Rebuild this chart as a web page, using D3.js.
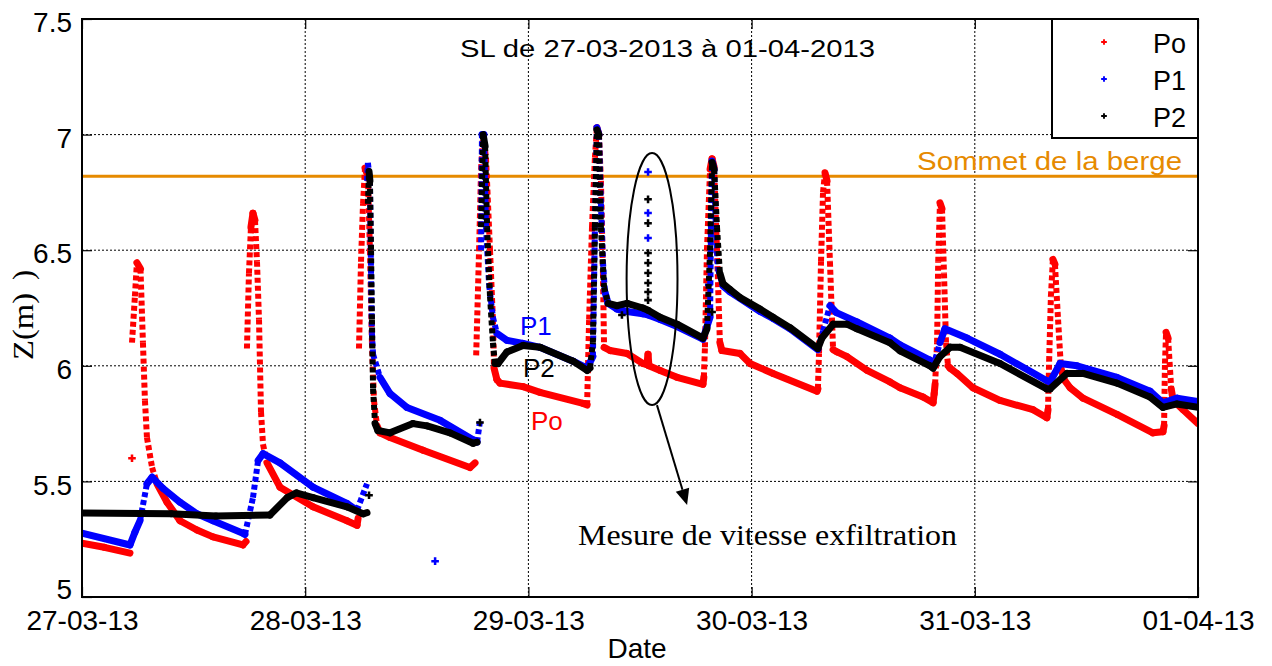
<!DOCTYPE html>
<html><head><meta charset="utf-8">
<script src="https://cdn.jsdelivr.net/npm/d3@7"></script>
<style>
body{margin:0;background:#fff;}
svg text{font-family:"Liberation Sans",Arial,Helvetica,sans-serif;}
svg text.serif{font-family:"Liberation Serif","Times New Roman",serif;}
</style></head><body>
<svg id="chart" width="1272" height="666"></svg>
<script>
// ---------------- DATA ----------------
// x = days since 27-03-2013 00:00 ; value = Z (m) ; null = gap in the record
const xTickValues = [0, 1, 2, 3, 4, 5];
const xTickLabels = ["27-03-13", "28-03-13", "29-03-13", "30-03-13", "31-03-13", "01-04-13"];
const yTicks = [5, 5.5, 6, 6.5, 7, 7.5];
const bergeLevel = 6.82;
const seriesNames = ["Po", "P1", "P2"];
const seriesColors = ["#ff0000", "#0000ff", "#000000"];

const poLine = [
 [0,5.233],[0.10,5.215],[0.215,5.19],null,
 [0.224,6.10],[0.237,6.30],[0.246,6.446],[0.262,6.42],[0.273,6.10],[0.282,5.85],[0.291,5.69],[0.314,5.56],[0.336,5.49],[0.381,5.41],[0.439,5.33],[0.515,5.29],[0.587,5.26],[0.721,5.225],[0.735,5.24],null,
 [0.739,6.075],[0.748,6.40],[0.757,6.60],[0.766,6.66],[0.775,6.63],[0.784,6.45],[0.793,6.20],[0.802,5.80],[0.811,5.66],[0.829,5.58],[0.887,5.475],[1.035,5.39],[1.187,5.33],[1.232,5.31],[1.237,5.34],null,
 [1.241,6.075],[1.250,6.45],[1.259,6.70],[1.268,6.855],[1.281,6.82],[1.290,6.50],[1.299,6.10],[1.308,5.85],[1.322,5.74],[1.335,5.71],[1.380,5.69],[1.528,5.635],[1.738,5.56],[1.761,5.58],null,
 [1.766,6.045],[1.779,6.50],[1.788,6.85],[1.797,7.0],[1.810,6.90],[1.828,6.50],[1.841,6.20],[1.846,5.99],[1.859,5.94],[1.873,5.925],[1.976,5.91],[2.052,5.885],[2.245,5.837],[2.263,5.83],
 [2.272,6.20],[2.285,6.60],[2.298,6.90],[2.307,7.03],[2.316,7.0],[2.325,6.80],[2.334,6.40],[2.339,6.08],[2.366,6.066],[2.442,6.053],[2.513,6.01],[2.531,6.005],[2.536,6.05],[2.540,6.0],[2.590,5.98],[2.666,5.95],[2.782,5.92],[2.786,5.95],
 [2.791,6.08],[2.800,6.50],[2.814,6.85],[2.823,6.895],[2.832,6.86],[2.845,6.50],[2.858,6.10],[2.867,6.066],[2.948,6.053],[2.993,6.01],[3.096,5.967],[3.293,5.89],[3.297,5.90],
 [3.302,6.053],[3.311,6.45],[3.320,6.75],[3.329,6.835],[3.338,6.80],[3.351,6.45],[3.365,6.07],[3.383,6.06],[3.427,6.04],[3.517,5.98],[3.620,5.93],[3.665,5.905],[3.768,5.865],[3.813,5.84],[3.818,5.88],
 [3.822,5.92],[3.831,6.10],[3.836,6.45],[3.844,6.705],[3.853,6.68],[3.862,6.40],[3.871,6.10],[3.880,6.0],[3.889,5.99],[3.920,5.967],[3.992,5.905],[4.113,5.85],[4.261,5.81],[4.323,5.775],[4.328,5.81],
 [4.333,6.02],[4.341,6.30],[4.350,6.46],[4.359,6.44],[4.373,6.20],[4.386,5.99],[4.400,5.94],[4.427,5.905],[4.485,5.86],[4.637,5.79],[4.798,5.71],[4.843,5.715],[4.848,5.74],
 [4.852,6.01],[4.857,6.145],[4.866,6.12],[4.880,5.90],[4.889,5.85],[4.933,5.81],[5.0,5.75]
];
const poDots = [[0.224,5.60]];

const p1Line = [
 [0,5.276],[0.215,5.225],[0.237,5.28],[0.260,5.33],[0.291,5.49],[0.314,5.518],[0.363,5.47],[0.439,5.41],[0.515,5.36],[0.587,5.33],[0.721,5.276],[0.730,5.27],[0.766,5.43],[0.789,5.59],[0.811,5.62],[0.887,5.58],[1.035,5.475],[1.187,5.405],[1.232,5.375],[1.277,5.49],null,
 [1.277,6.80],[1.281,6.878],[1.290,6.80],[1.295,6.40],[1.299,6.14],[1.304,6.05],[1.335,5.95],[1.380,5.88],[1.456,5.82],[1.604,5.764],[1.752,5.68],[1.770,5.67],[1.783,5.76],null,
 [1.788,6.50],[1.792,7.0],[1.801,7.0],[1.810,6.60],[1.824,6.35],[1.841,6.21],[1.859,6.14],[1.904,6.11],[1.976,6.097],[2.052,6.08],[2.200,6.02],[2.263,5.99],[2.289,6.04],
 [2.298,6.60],[2.307,7.03],[2.316,7.0],[2.325,6.70],[2.334,6.45],[2.343,6.32],[2.357,6.27],[2.397,6.245],[2.442,6.235],[2.513,6.225],[2.536,6.22],[2.590,6.20],[2.666,6.17],[2.782,6.115],[2.800,6.17],[2.814,6.21],
 [2.818,6.60],[2.823,6.886],[2.832,6.85],[2.840,6.60],[2.849,6.42],[2.872,6.345],[2.903,6.32],[3.038,6.235],[3.096,6.205],[3.172,6.16],[3.297,6.07],
 [3.320,6.15],[3.351,6.26],[3.380,6.23],[3.472,6.19],[3.620,6.12],[3.665,6.09],[3.799,6.025],[3.813,5.995],[3.844,6.10],[3.866,6.16],[3.965,6.12],[4.113,6.05],[4.323,5.935],[4.337,5.93],[4.382,6.01],[4.458,6.0],[4.637,5.95],[4.785,5.89],[4.843,5.84],[4.906,5.86],[5.0,5.845]
];
const p1Dots = [[1.582,5.155],[2.536,6.838],[2.536,6.661],[2.536,6.553],[2.808,6.35]];

const p2Line = [
 [0,5.363],[0.40,5.36],[0.60,5.35],[0.842,5.355],[0.92,5.43],[0.96,5.45],[1.035,5.43],[1.187,5.39],[1.259,5.36],[1.277,5.365],null,
 [1.281,6.70],[1.286,6.84],[1.290,6.80],[1.295,6.50],[1.299,6.20],[1.304,5.90],[1.313,5.75],[1.326,5.72],[1.380,5.71],[1.483,5.75],[1.546,5.74],[1.649,5.71],[1.752,5.665],[1.770,5.67],null,
 [1.788,6.60],[1.797,7.0],[1.806,6.95],[1.815,6.60],[1.828,6.30],[1.841,6.10],[1.850,6.01],[1.864,6.01],[1.904,6.06],[1.976,6.088],[2.052,6.08],[2.200,6.02],[2.263,5.98],[2.276,5.99],
 [2.289,6.10],[2.298,6.60],[2.307,7.02],[2.316,7.0],[2.325,6.60],[2.339,6.34],[2.357,6.27],[2.397,6.26],[2.442,6.27],[2.513,6.25],[2.536,6.24],[2.590,6.21],[2.666,6.18],[2.782,6.12],[2.800,6.16],
 [2.814,6.50],[2.823,6.88],[2.832,6.85],[2.845,6.60],[2.858,6.40],[2.872,6.355],[2.903,6.33],[2.948,6.295],[3.038,6.245],[3.096,6.21],[3.172,6.165],[3.297,6.075],
 [3.315,6.12],[3.365,6.18],[3.427,6.18],[3.472,6.16],[3.620,6.10],[3.665,6.065],[3.799,6.00],[3.813,5.99],[3.844,6.04],[3.889,6.08],[3.934,6.08],[4.113,6.01],[4.323,5.90],[4.337,5.90],[4.413,5.967],[4.485,5.967],[4.637,5.925],[4.785,5.865],[4.843,5.82],[4.906,5.835],[5.0,5.82]
];
const p2Dots = [[1.286,5.44],[1.783,5.755],[2.419,6.22],[2.823,6.233],
 [2.536,6.72],[2.536,6.617],[2.536,6.488],[2.536,6.445],[2.536,6.401],[2.536,6.358],[2.536,6.319],[2.536,6.284]];

// annotation anchors (data coordinates)
const ellipseCenter = [2.554, 6.375], ellipseHalf = [0.114, 0.545];
const arrowFrom = [2.576, 5.83], arrowTo = [2.711, 5.398];

// ---------------- DRAW ----------------
const L = 82, R = 1198, T = 19, B = 597;
const x = d3.scaleLinear().domain([0, 5]).range([L, R]);
const y = d3.scaleLinear().domain([5, 7.5]).range([B, T]);
const svg = d3.select("#chart");

svg.append("defs").append("clipPath").attr("id", "clip")
  .append("rect").attr("x", L).attr("y", T).attr("width", R - L).attr("height", B - T);

// grid
const grid = svg.append("g").attr("stroke", "#000").attr("stroke-width", 1).attr("stroke-dasharray", "2,2");
grid.selectAll(".gv").data(xTickValues.slice(1, -1)).join("line").attr("class", "gv")
  .attr("x1", d => x(d)).attr("x2", d => x(d)).attr("y1", T).attr("y2", B);
grid.selectAll(".gh").data(yTicks.slice(1, -1)).join("line").attr("class", "gh")
  .attr("x1", L).attr("x2", R).attr("y1", d => y(d)).attr("y2", d => y(d));

// axes (ticks inside)
const fmtX = d => xTickLabels[xTickValues.indexOf(d)];
const gx = svg.append("g").attr("transform", `translate(0,${B})`)
  .call(d3.axisBottom(x).tickValues(xTickValues).tickFormat(fmtX).tickSize(-10).tickPadding(13));
const gy = svg.append("g").attr("transform", `translate(${L},0)`)
  .call(d3.axisLeft(y).tickValues(yTicks).tickFormat(d3.format("")).tickSize(-10).tickPadding(10));
svg.append("g").attr("transform", `translate(0,${T})`)
  .call(d3.axisTop(x).tickValues(xTickValues).tickFormat("").tickSize(-10));
svg.append("g").attr("transform", `translate(${R},0)`)
  .call(d3.axisRight(y).tickValues(yTicks).tickFormat("").tickSize(-10));
svg.selectAll(".domain").remove();
svg.selectAll(".tick line").attr("stroke", "#000").attr("stroke-width", 1.2);
gx.selectAll("text").attr("font-size", 28).attr("fill", "#000");
gy.selectAll("text").attr("font-size", 28).attr("fill", "#000")
  .attr("dy", (d, i) => i === 0 ? "0.04em" : "0.45em");

// berge level
svg.append("line").attr("x1", L).attr("x2", R).attr("y1", y(bergeLevel)).attr("y2", y(bergeLevel))
  .attr("stroke", "#e68a00").attr("stroke-width", 3);

// series
const plot = svg.append("g").attr("clip-path", "url(#clip)");
const cross = d3.symbol().type(d3.symbolCross).size(32);
function drawSeries(line, dots, color) {
  const g = plot.append("g");
  for (let i = 0; i < line.length - 1; i++) {
    const a = line[i], b = line[i + 1];
    if (!a || !b) continue;
    const x1 = x(a[0]), y1 = y(a[1]), x2 = x(b[0]), y2 = y(b[1]);
    const steep = Math.abs(y2 - y1) > 2.2 * Math.abs(x2 - x1) && Math.abs(y2 - y1) > 14;
    g.append("line").attr("x1", x1).attr("y1", y1).attr("x2", x2).attr("y2", y2)
      .attr("stroke", color)
      .attr("stroke-width", steep ? 6 : 7)
      .attr("stroke-linecap", steep ? "butt" : "round")
      .attr("stroke-dasharray", steep ? "5,3" : null);
  }
  g.selectAll("path.dot").data(dots).join("path").attr("class", "dot")
    .attr("d", cross).attr("fill", color)
    .attr("transform", d => `translate(${x(d[0])},${y(d[1])})`);
}
drawSeries(poLine, poDots, seriesColors[0]);
drawSeries(p1Line, p1Dots, seriesColors[1]);
drawSeries(p2Line, p2Dots, seriesColors[2]);

// frame
svg.append("rect").attr("x", L).attr("y", T).attr("width", R - L).attr("height", B - T)
  .attr("fill", "none").attr("stroke", "#000").attr("stroke-width", 2);

// title
svg.append("text").attr("x", 460).attr("y", 57).attr("font-size", 23)
  .attr("textLength", 415).attr("lengthAdjust", "spacingAndGlyphs").text("SL de 27-03-2013 à 01-04-2013");

// berge label
svg.append("text").attr("x", 917).attr("y", 170).attr("font-size", 25).attr("fill", "#e68a00")
  .attr("textLength", 265).attr("lengthAdjust", "spacingAndGlyphs").text("Sommet de la berge");

// in-plot series labels
const inLabels = [{t: "P1", c: seriesColors[1], x: 520, y: 335}, {t: "P2", c: seriesColors[2], x: 523, y: 377}, {t: "Po", c: seriesColors[0], x: 531, y: 430}];
svg.selectAll(".inlab").data(inLabels).join("text").attr("class", "inlab")
  .attr("x", d => d.x).attr("y", d => d.y).attr("font-size", 26).attr("fill", d => d.c).text(d => d.t);

// ellipse + arrow
const ecx = x(ellipseCenter[0]), ecy = y(ellipseCenter[1]);
svg.append("ellipse").attr("cx", ecx).attr("cy", ecy)
  .attr("rx", x(ellipseCenter[0] + ellipseHalf[0]) - ecx)
  .attr("ry", ecy - y(ellipseCenter[1] + ellipseHalf[1]))
  .attr("fill", "none").attr("stroke", "#000").attr("stroke-width", 2);
const ax1 = x(arrowFrom[0]), ay1 = y(arrowFrom[1]), ax2 = x(arrowTo[0]), ay2 = y(arrowTo[1]);
const ang = Math.atan2(ay2 - ay1, ax2 - ax1), hl = 16, hw = 7;
const bx = ax2 - hl * Math.cos(ang), by = ay2 - hl * Math.sin(ang);
svg.append("line").attr("x1", ax1).attr("y1", ay1).attr("x2", bx).attr("y2", by)
  .attr("stroke", "#000").attr("stroke-width", 2);
svg.append("path").attr("d", `M${ax2},${ay2}L${bx + hw * Math.sin(ang)},${by - hw * Math.cos(ang)}L${bx - hw * Math.sin(ang)},${by + hw * Math.cos(ang)}Z`).attr("fill", "#000");
svg.append("text").attr("class", "serif").attr("x", 578).attr("y", 545).attr("font-size", 30)
  .attr("textLength", 379).attr("lengthAdjust", "spacingAndGlyphs").text("Mesure de vitesse exfiltration");

// legend
const lg = svg.append("g");
lg.append("rect").attr("x", 1052).attr("y", T).attr("width", R - 1052).attr("height", 119)
  .attr("fill", "#fff").attr("stroke", "#000").attr("stroke-width", 2);
const legY = [42, 79, 116];
seriesNames.forEach((n, i) => {
  lg.append("path").attr("d", d3.symbol().type(d3.symbolCross).size(18)).attr("fill", seriesColors[i])
    .attr("transform", `translate(1104,${legY[i]})`);
  lg.append("text").attr("x", 1153).attr("y", legY[i] + 11).attr("font-size", 27).text(n);
});

// axis titles
svg.append("text").attr("x", (L + R) / 2 - 3).attr("y", 658).attr("text-anchor", "middle").attr("font-size", 28).text("Date");
const yl = svg.append("g").attr("transform", "translate(33,360) rotate(-90)");
yl.append("text").attr("class", "serif").attr("x", 0).attr("y", 0).attr("font-size", 30)
  .attr("textLength", 67).attr("lengthAdjust", "spacingAndGlyphs").text("Z(m)");
yl.append("text").attr("class", "serif").attr("x", 80).attr("y", 0).attr("font-size", 30).text(")");
</script>
</body></html>
